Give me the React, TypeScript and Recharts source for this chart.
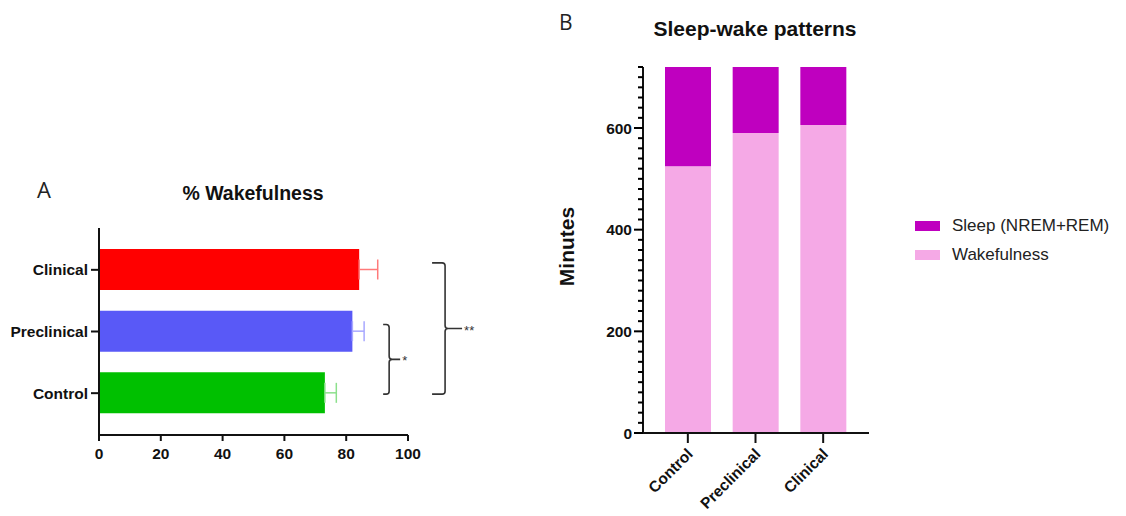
import {
  BarChart,
  Bar,
  XAxis,
  YAxis,
  Cell,
  ErrorBar,
  ReferenceLine,
} from "recharts";

// panel A: % wakefulness (top to bottom)
const groups = ["Clinical", "Preclinical", "Control"];
const wakePct = [84.2, 82, 73.1];
const wakeErr = [6, 3.8, 3.7];
const groupColors = ["#FF0000", "#5959F7", "#00C000"];
const errColors = ["#FF7A7A", "#A8A8FF", "#8CE08C"];
const pctTicks = [0, 20, 40, 60, 80, 100];

// panel B: sleep-wake minutes
const patternGroups = ["Control", "Preclinical", "Clinical"];
const wakeMinutes = [525, 590, 606];
const sleepMinutes = [195, 130, 114];
const minuteTicks = [
  0, 20, 40, 60, 80, 100, 120, 140, 160, 180, 200, 220, 240, 260, 280, 300,
  320, 340, 360, 380, 400, 420, 440, 460, 480, 500, 520, 540, 560, 580, 600,
  620, 640, 660, 680, 700, 720,
];
const majorMinuteTicks = [0, 200, 400, 600];
const seriesNames = ["Sleep (NREM+REM)", "Wakefulness"];
const seriesColors = ["#BF00BF", "#F5A9E6"];

const FONT = '"Liberation Sans", Arial, sans-serif';

const wakeData = groups.map((g, i) => ({
  name: g,
  pct: wakePct[i],
  errClin: i === 0 ? [0, wakeErr[i]] : undefined,
  errPre: i === 1 ? [0, wakeErr[i]] : undefined,
  errCtrl: i === 2 ? [0, wakeErr[i]] : undefined,
}));

const patternData = patternGroups.map((g, i) => ({
  name: g,
  wake: wakeMinutes[i],
  sleep: sleepMinutes[i],
}));

// significance bracket drawn from a vertical reference segment
function makeBracket(arm: number, tick: number, stars: string) {
  return (props: any) => {
    const { x1, y1, y2 } = props;
    const top = Math.min(y1, y2) - 7;
    const bot = Math.max(y1, y2) + 1;
    const x = x1;
    const mid = (top + bot) / 2;
    const d = [
      `M${x - arm},${top} L${x - 3},${top} Q${x},${top} ${x},${top + 3}`,
      `L${x},${mid - 3} Q${x},${mid} ${x + 3},${mid} L${x + tick},${mid}`,
      `M${x + 3},${mid} Q${x},${mid} ${x},${mid + 3}`,
      `L${x},${bot - 3} Q${x},${bot} ${x - 3},${bot} L${x - arm},${bot}`,
    ].join(" ");
    return (
      <g>
        <path d={d} fill="none" stroke="#333" strokeWidth={1.6} />
        <text
          x={x + tick + 2}
          y={mid + 6}
          fontFamily={FONT}
          fontSize={13}
          fill="#333"
        >
          {stars}
        </text>
      </g>
    );
  };
}

const MinuteTick = (props: any) => {
  const { x, y, payload } = props;
  const major = majorMinuteTicks.includes(payload.value);
  const len = major ? 9 : 5;
  return (
    <g>
      <line x1={x} y1={y} x2={x - len} y2={y} stroke="#000" strokeWidth={2} />
      {major && (
        <text
          x={x - len - 2}
          y={y}
          dy={5.5}
          textAnchor="end"
          fontFamily={FONT}
          fontWeight="bold"
          fontSize={15.5}
          fill="#111"
        >
          {payload.value}
        </text>
      )}
    </g>
  );
};

const RotatedTick = (props: any) => {
  const { x, y, payload } = props;
  return (
    <text
      x={x + 6}
      y={y + 12}
      textAnchor="end"
      transform={`rotate(-45 ${x + 6} ${y + 12})`}
      fontFamily={FONT}
      fontWeight="bold"
      fontSize={15.5}
      fill="#111"
    >
      {payload.value}
    </text>
  );
};

export default function App() {
  return (
    <div
      style={{
        position: "absolute",
        left: 0,
        top: 0,
        width: 1126,
        height: 516,
        background: "#fff",
        overflow: "hidden",
      }}
    >
      <div
        style={{
          position: "absolute",
          left: 37,
          top: 178,
          fontFamily: '"Open Sans", sans-serif',
          fontSize: 22,
          lineHeight: "22px",
          color: "#222",
        }}
      >
        A
      </div>
      <div
        style={{
          position: "absolute",
          left: 153,
          top: 184,
          width: 200,
          textAlign: "center",
          fontFamily: FONT,
          fontWeight: "bold",
          fontSize: 19.5,
          lineHeight: "19.5px",
          color: "#111",
        }}
      >
        % Wakefulness
      </div>
      <div
        style={{
          position: "absolute",
          left: 559,
          top: 12,
          fontFamily: '"Open Sans", sans-serif',
          fontSize: 21,
          lineHeight: "21px",
          color: "#222",
        }}
      >
        B
      </div>
      <div
        style={{
          position: "absolute",
          left: 605,
          top: 18,
          width: 300,
          textAlign: "center",
          fontFamily: FONT,
          fontWeight: "bold",
          fontSize: 21,
          lineHeight: "21px",
          color: "#111",
        }}
      >
        Sleep-wake patterns
      </div>
      <div
        style={{
          position: "absolute",
          left: 506,
          top: 236,
          width: 120,
          height: 21,
          textAlign: "center",
          fontFamily: FONT,
          fontWeight: "bold",
          fontSize: 21,
          lineHeight: "21px",
          color: "#111",
          transform: "rotate(-90deg)",
        }}
      >
        Minutes
      </div>

      {/* legend for panel B */}
      <div
        style={{
          position: "absolute",
          left: 915,
          top: 211,
          fontFamily: FONT,
          fontSize: 17,
          color: "#222",
        }}
      >
        {seriesNames.map((n, i) => (
          <div
            key={n}
            style={{ display: "flex", alignItems: "center", height: 29 }}
          >
            <span
              style={{
                display: "inline-block",
                width: 25,
                height: 10,
                background: seriesColors[i],
                marginRight: 12,
              }}
            />
            {n}
          </div>
        ))}
      </div>

      <div style={{ position: "absolute", left: 0, top: 0 }}>
        <BarChart
          width={520}
          height={516}
          data={wakeData}
          layout="vertical"
          margin={{ top: 228, right: 112, bottom: 51, left: 8 }}
        >
          <XAxis
            type="number"
            domain={[0, 100]}
            ticks={pctTicks}
            interval={0}
            height={30}
            axisLine={{ stroke: "#111", strokeWidth: 2 }}
            tickLine={{ stroke: "#111", strokeWidth: 2 }}
            tickSize={6}
            tickMargin={7}
            tick={{
              fill: "#111",
              fontSize: 15.5,
              fontWeight: "bold",
              fontFamily: FONT,
            }}
          />
          <YAxis
            type="category"
            dataKey="name"
            width={91}
            padding={{ top: 11, bottom: 11 }}
            axisLine={{ stroke: "#111", strokeWidth: 2 }}
            tickLine={{ stroke: "#111", strokeWidth: 2 }}
            tickSize={8}
            tickMargin={3}
            tick={{
              fill: "#111",
              fontSize: 15.5,
              fontWeight: "bold",
              fontFamily: FONT,
            }}
          />
          <Bar dataKey="pct" barSize={41} isAnimationActive={false}>
            {wakeData.map((d, i) => (
              <Cell key={d.name} fill={groupColors[i]} />
            ))}
            <ErrorBar
              dataKey="errClin"
              direction="x"
              width={10}
              stroke={errColors[0]}
              strokeWidth={1.5}
            />
            <ErrorBar
              dataKey="errPre"
              direction="x"
              width={10}
              stroke={errColors[1]}
              strokeWidth={1.5}
            />
            <ErrorBar
              dataKey="errCtrl"
              direction="x"
              width={10}
              stroke={errColors[2]}
              strokeWidth={1.5}
            />
          </Bar>
          <ReferenceLine
            segment={[
              { x: 93.9, y: "Preclinical" },
              { x: 93.9, y: "Control" },
            ]}
            ifOverflow="visible"
            shape={makeBracket(6, 11, "*")}
          />
          <ReferenceLine
            segment={[
              { x: 112, y: "Clinical" },
              { x: 112, y: "Control" },
            ]}
            ifOverflow="visible"
            shape={makeBracket(13, 17, "**")}
          />
        </BarChart>
      </div>

      <div style={{ position: "absolute", left: 540, top: 0 }}>
        <BarChart
          width={586}
          height={516}
          data={patternData}
          margin={{ top: 67, right: 257, bottom: 3, left: 43 }}
        >
          <XAxis
            dataKey="name"
            height={80}
            padding={{ left: 11, right: 12 }}
            axisLine={{ stroke: "#111", strokeWidth: 2 }}
            tickLine={{ stroke: "#111", strokeWidth: 2 }}
            tickSize={10}
            tickMargin={0}
            interval={0}
            tick={<RotatedTick />}
          />
          <YAxis
            type="number"
            domain={[0, 720]}
            ticks={minuteTicks}
            interval={0}
            width={60}
            axisLine={{ stroke: "#111", strokeWidth: 2 }}
            tickLine={false}
            tickSize={0}
            tickMargin={0}
            tick={<MinuteTick />}
          />
          <Bar
            dataKey="wake"
            name={seriesNames[1]}
            stackId="a"
            fill={seriesColors[1]}
            barSize={46}
            isAnimationActive={false}
          />
          <Bar
            dataKey="sleep"
            name={seriesNames[0]}
            stackId="a"
            fill={seriesColors[0]}
            barSize={46}
            isAnimationActive={false}
          />
        </BarChart>
      </div>
    </div>
  );
}
